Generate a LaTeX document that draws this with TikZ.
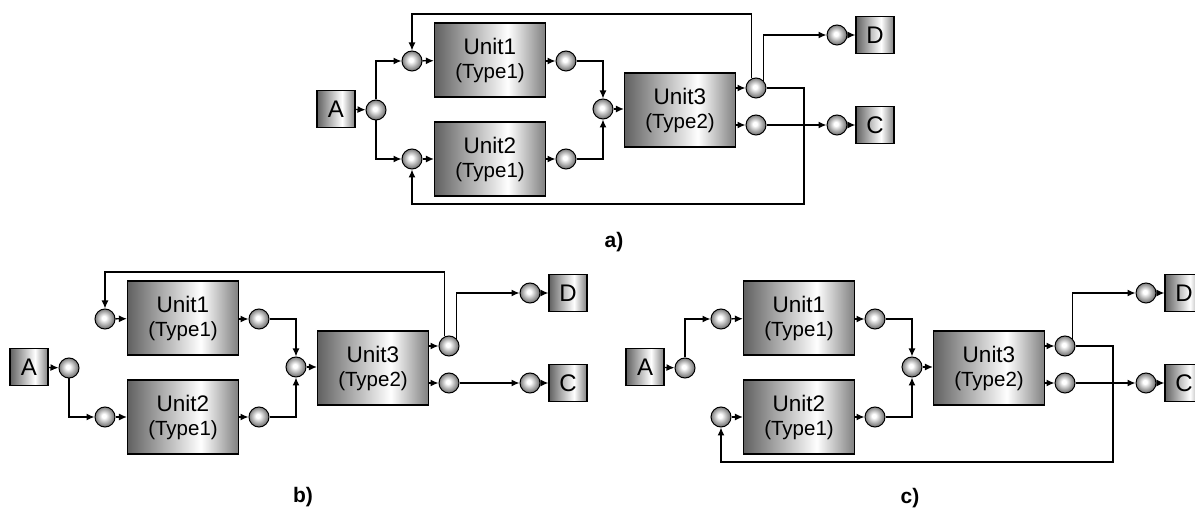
\documentclass[tikz,border=0pt]{standalone}
\usepackage{fontspec}
\setmainfont{Liberation Sans}
\usetikzlibrary{arrows.meta}

% metallic fill of the blocks: dark on the left, bright right of centre
\pgfdeclarehorizontalshading{blockshade}{100bp}{%
  color(0bp)=(black!62); color(25bp)=(black!62);
  color(58bp)=(white);
  color(75bp)=(black!50); color(100bp)=(black!50)}
% little spherical junctions
\pgfdeclareradialshading{junctionshade}{\pgfpoint{-3bp}{3bp}}{%
  color(0bp)=(white); color(5bp)=(white);
  color(25bp)=(black!55); color(50bp)=(black!55)}

\tikzset{
  unitbox/.style={draw=black, line width=1.2pt, shading=blockshade,
    minimum width=111pt, minimum height=74pt, inner sep=0pt, align=center,
    font=\fontsize{22.5}{26}\selectfont},
  termbox/.style={draw=black, line width=1.2pt, shading=blockshade,
    minimum width=38pt, minimum height=37pt, inner sep=0pt,
    font=\fontsize{24}{24}\selectfont},
  junction/.style={circle, draw=black, line width=1pt, shading=junctionshade,
    minimum size=20pt, inner sep=0pt},
  link/.style={line width=1.3pt},
  flow/.style={link, -{Latex[length=8pt,width=7pt]}},
  tag/.style={font=\bfseries\fontsize{21}{21}\selectfont}
}

% one process layout: source, two parallel units, mixing unit and two products
\newcommand{\processlayout}{%
  \node[termbox]  (A)  at (29,367)  {A};
  \node[junction] (s)  at (69,368)  {};
  \node[junction] (i1) at (105,319) {};
  \node[junction] (i2) at (105,417) {};
  \node[unitbox]  (U1) at (183,318) {Unit1\\[-2pt]{\fontsize{20.5}{22}\selectfont(Type1)}};
  \node[unitbox]  (U2) at (183,417) {Unit2\\[-2pt]{\fontsize{20.5}{22}\selectfont(Type1)}};
  \node[junction] (o1) at (259,319) {};
  \node[junction] (o2) at (259,417) {};
  \node[junction] (m)  at (296,367) {};
  \node[unitbox]  (U3) at (373,368) {Unit3\\[-2pt]{\fontsize{20.5}{22}\selectfont(Type2)}};
  \node[junction] (p1) at (449,346) {};
  \node[junction] (p2) at (449,383) {};
  \node[junction] (dq) at (530,293) {};
  \node[termbox]  (D)  at (568,293) {D};
  \node[junction] (cq) at (530,383) {};
  \node[termbox]  (C)  at (568,383) {C};
  \coordinate (top) at (0,272);
  \coordinate (loop) at (497,462);
  % main flow
  \draw[flow] (A) -- (s);
  \draw[flow] (i1) -- (U1);
  \draw[flow] (i2) -- (U2);
  \draw[flow] (U1.east |- o1) -- (o1);
  \draw[flow] (U2.east |- o2) -- (o2);
  \draw[flow] (o1) -| (m);
  \draw[flow] (o2) -| (m);
  \draw[flow] (m) -- (m -| U3.west);
  \draw[flow] (U3.east |- p1) -- (p1);
  \draw[flow] (U3.east |- p2) -- (p2);
  \draw[flow] (p1.north east) |- (dq);
  \draw[flow] (dq) -- (D);
  \draw[flow] (p2) -- (cq);
  \draw[flow] (cq) -- (C);
}

\begin{document}
\begin{tikzpicture}[x=1pt, y=-1pt]
  \useasboundingbox (0,0) rectangle (1195,510);

  % a) both parallel units receive a recycle stream
  \begin{scope}[shift={(307,-258)}, name prefix=a-]
    \processlayout
    \draw[flow] (s) |- (i1);
    \draw[flow] (s) |- (i2);
    \draw[flow] (p1.115) -- (p1.115 |- top) -| (i1);
    \draw[flow] (p1) -| (loop) -| (i2);
  \end{scope}
  \node[tag] (la) at (614,242) {a)};

  % b) recycle to Unit1 only, fresh feed to Unit2
  \begin{scope}[name prefix=b-]
    \processlayout
    \draw[flow] (s) |- (i2);
    \draw[flow] (p1.115) -- (p1.115 |- top) -| (i1);
  \end{scope}
  \node[tag] (lb) at (303,497) {b)};

  % c) fresh feed to Unit1, recycle to Unit2 only
  \begin{scope}[shift={(616,0)}, name prefix=c-]
    \processlayout
    \draw[flow] (s) |- (i1);
    \draw[flow] (p1) -| (loop) -| (i2);
  \end{scope}
  \node[tag] (lc) at (910,498) {c)};
\end{tikzpicture}
\end{document}
